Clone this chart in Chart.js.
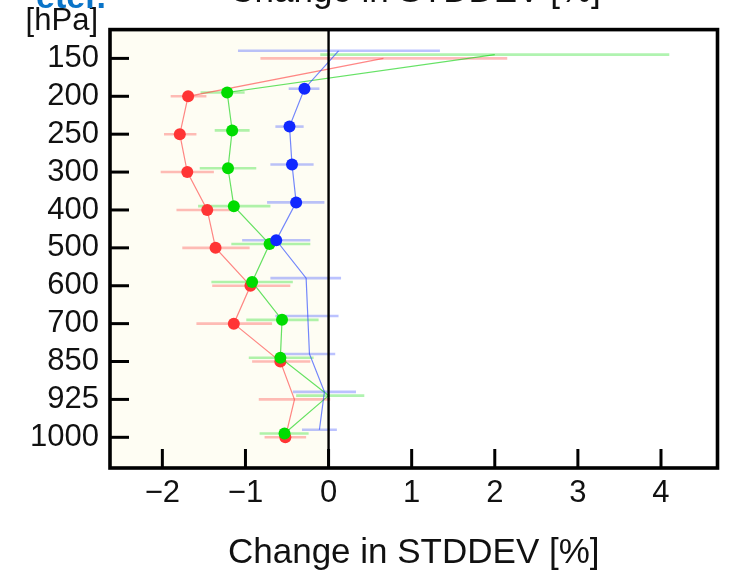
<!DOCTYPE html>
<html>
<head>
<meta charset="utf-8">
<script src="https://cdn.jsdelivr.net/npm/chart.js@4.4.1/dist/chart.umd.min.js"></script>
<style>
  html, body { margin: 0; padding: 0; background: #fff; }
  #c { display: block; }
</style>
</head>
<body>
<canvas id="c" width="730" height="574"></canvas>
<script>
// Pressure levels, top of the profile first
const levels = ['150', '200', '250', '300', '400', '500', '600', '700', '850', '925', '1000'];
const xTickValues = [-2, -1, 0, 1, 2, 3, 4];

// Change in standard deviation [%] with confidence range, per level
const redValues  = [0.66, -1.69, -1.79, -1.70, -1.46, -1.36, -0.94, -1.14, -0.58, -0.41, -0.52];
const redLow     = [-0.82, -1.90, -1.98, -2.02, -1.83, -1.76, -1.40, -1.59, -0.92, -0.84, -0.77];
const redHigh    = [2.15, -1.47, -1.59, -1.38, -1.18, -0.95, -0.46, -0.68, -0.22, 0.02, -0.27];
const redSig     = [false, true, true, true, true, true, true, true, true, false, true];

const greenValues = [2.00, -1.22, -1.16, -1.21, -1.14, -0.71, -0.92, -0.56, -0.58, 0.00, -0.53];
const greenLow    = [-0.10, -1.54, -1.37, -1.55, -1.57, -1.17, -1.41, -0.99, -0.96, -0.39, -0.83];
const greenHigh   = [4.10, -1.01, -0.95, -0.87, -0.70, -0.22, -0.43, -0.12, -0.18, 0.43, -0.24];
const greenSig    = [false, true, true, true, true, true, true, true, true, false, true];

const blueValues = [0.12, -0.29, -0.47, -0.44, -0.39, -0.63, -0.27, -0.25, -0.23, -0.05, -0.11];
const blueLow    = [-1.09, -0.48, -0.64, -0.70, -0.74, -1.04, -0.70, -0.64, -0.54, -0.43, -0.32];
const blueHigh   = [1.34, -0.11, -0.30, -0.18, -0.05, -0.22, 0.15, 0.12, 0.08, 0.33, 0.10];
const blueSig    = [false, true, true, true, true, true, false, false, false, false, false];

const FONT = "'Liberation Sans', Arial, sans-serif";

// each series is nudged slightly upward so the markers do not sit on top of each other
function series(label, values, low, high, sig, shift, dot, line, bar, order) {
  return {
    label,
    data: values.map((v, i) => ({ x: v, y: i + shift })),
    errLow: low,
    errHigh: high,
    errColor: bar,
    showLine: true,
    borderColor: line,
    borderWidth: 1.2,
    pointRadius: sig.map(s => (s ? 6 : 0)),
    pointHoverRadius: sig.map(s => (s ? 6 : 0)),
    pointBackgroundColor: dot,
    pointBorderWidth: 0,
    order
  };
}

const datasets = [
  series('red', redValues, redLow, redHigh, redSig, 0, '#ff3535', 'rgba(255,70,70,0.65)', 'rgba(255,80,80,0.38)', 3),
  series('green', greenValues, greenLow, greenHigh, greenSig, -0.1, '#00dc00', 'rgba(20,210,20,0.65)', 'rgba(30,220,30,0.35)', 2),
  series('blue', blueValues, blueLow, blueHigh, blueSig, -0.2, '#1028ff', 'rgba(40,70,255,0.65)', 'rgba(60,80,255,0.35)', 1)
];

// cream shading on the negative side of the plot
const shading = {
  id: 'shading',
  beforeDraw(chart) {
    const { ctx, chartArea: a, scales: { x } } = chart;
    ctx.save();
    ctx.fillStyle = '#ffffff';
    ctx.fillRect(0, 0, chart.width, chart.height);
    ctx.fillStyle = '#fefdf3';
    ctx.fillRect(a.left, a.top, x.getPixelForValue(0) - a.left, a.bottom - a.top);
    ctx.restore();
  }
};

// horizontal confidence bars
const errorBars = {
  id: 'errorBars',
  beforeDatasetsDraw(chart) {
    const { ctx, scales: { x, y } } = chart;
    ctx.save();
    chart.data.datasets.slice().sort((a, b) => b.order - a.order).forEach(ds => {
      ctx.strokeStyle = ds.errColor;
      ctx.lineWidth = 2.6;
      ds.data.forEach((p, i) => {
        const py = y.getPixelForValue(p.y);
        ctx.beginPath();
        ctx.moveTo(x.getPixelForValue(ds.errLow[i]), py);
        ctx.lineTo(x.getPixelForValue(ds.errHigh[i]), py);
        ctx.stroke();
      });
    });
    ctx.restore();
  }
};

// frame, zero line and inward tick marks
const frame = {
  id: 'frame',
  afterDatasetsDraw(chart) {
    const { ctx, chartArea: a, scales: { x, y } } = chart;
    ctx.save();
    ctx.strokeStyle = '#000';
    ctx.lineWidth = 2.4;
    const x0 = x.getPixelForValue(0);
    ctx.beginPath();
    ctx.moveTo(x0, a.top);
    ctx.lineTo(x0, a.bottom);
    ctx.stroke();

    ctx.lineWidth = 3;
    y.ticks.forEach(t => {
      const py = y.getPixelForValue(t.value);
      ctx.beginPath();
      ctx.moveTo(a.left, py);
      ctx.lineTo(a.left + 19, py);
      ctx.stroke();
    });
    x.ticks.forEach(t => {
      const px = x.getPixelForValue(t.value);
      ctx.beginPath();
      ctx.moveTo(px, a.bottom);
      ctx.lineTo(px, a.bottom - 19);
      ctx.stroke();
    });

    ctx.lineWidth = 3.6;
    ctx.strokeRect(a.left, a.top, a.right - a.left, a.bottom - a.top);
    ctx.restore();
  }
};

// header texts running off the top edge
const header = {
  id: 'header',
  afterDraw(chart) {
    const { ctx } = chart;
    ctx.save();
    ctx.fillStyle = '#111';
    ctx.font = `35px ${FONT}`;
    ctx.textAlign = 'center';
    ctx.textBaseline = 'alphabetic';
    ctx.fillText('Change in STDDEV [%]', 415, 2);

    ctx.font = `31px ${FONT}`;
    ctx.textAlign = 'right';
    ctx.fillText('[hPa]', 98, 30);

    ctx.fillStyle = '#0a74c8';
    ctx.font = `bold 34px ${FONT}`;
    ctx.textAlign = 'right';
    ctx.fillText('eter.', 106, 8);
    ctx.restore();
  }
};

new Chart(document.getElementById('c'), {
  type: 'scatter',
  data: { datasets },
  options: {
    responsive: false,
    animation: false,
    events: [],
    layout: { padding: { left: 0, top: 29, right: 12.5, bottom: 0 } },
    plugins: {
      legend: { display: false },
      tooltip: { enabled: false }
    },
    scales: {
      x: {
        type: 'linear',
        min: -2.63,
        max: 4.68,
        afterBuildTicks(scale) { scale.ticks = xTickValues.map(v => ({ value: v })); },
        afterFit(scale) { scale.height = 106; },
        grid: { display: false, drawTicks: false },
        border: { display: false },
        ticks: {
          autoSkip: false,
          maxRotation: 0,
          padding: 7,
          color: '#111',
          font: { family: FONT, size: 31 },
          callback: v => (v < 0 ? '\u2212' + Math.abs(v) : String(v))
        },
        title: {
          display: true,
          text: 'Change in STDDEV [%]',
          color: '#111',
          font: { family: FONT, size: 35 },
          padding: { top: 0, bottom: 0 }
        }
      },
      y: {
        type: 'linear',
        reverse: true,
        min: -0.76,
        max: 10.81,
        afterBuildTicks(scale) { scale.ticks = levels.map((l, i) => ({ value: i })); },
        afterFit(scale) { scale.width = 110; },
        grid: { display: false, drawTicks: false },
        border: { display: false },
        ticks: {
          autoSkip: false,
          padding: 11,
          color: '#111',
          font: { family: FONT, size: 31 },
          callback: v => levels[Math.round(v)]
        }
      }
    }
  },
  plugins: [shading, errorBars, frame, header]
});
</script>
</body>
</html>
